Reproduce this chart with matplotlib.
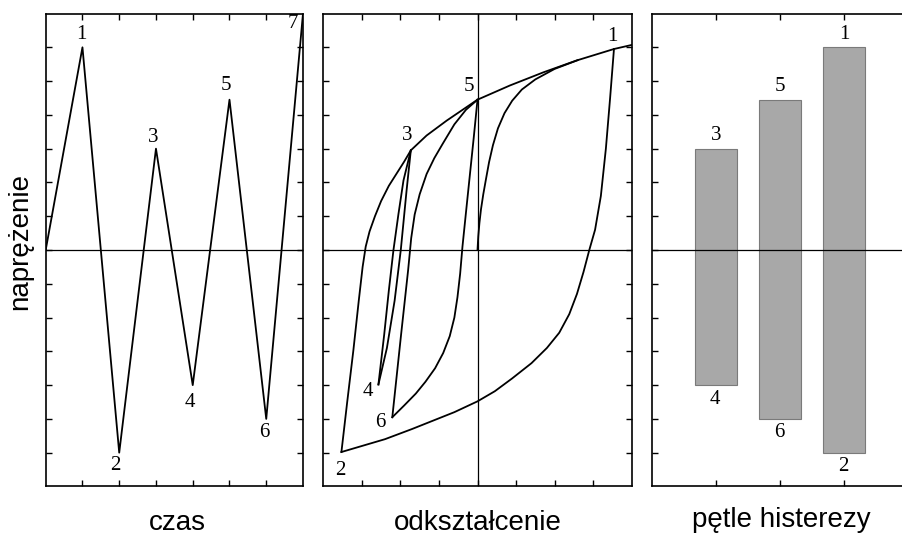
import matplotlib

matplotlib.use("Agg")

import matplotlib.pyplot as plt

# --- time history (left panel) ---
time_steps = [0, 1, 2, 3, 4, 5, 6, 7]
stress_history = [0, 6, -6, 3, -4, 4.45, -5, 7]
history_labels = ["", "1", "2", "3", "4", "5", "6", "7"]

# --- stress-strain branches (middle panel) ---
# reloading from 2 through 3 and 5 to 1 and beyond
reload_2_1_strain = [-3.53, -3.38, -3.22, -3.08, -2.98, -2.90, -2.80, -2.66, -2.50, -2.30, -2.05, -1.90,
                     -1.73, -1.32, -0.80, 0.0, 0.84, 1.71, 2.57, 3.54, 4.0]
reload_2_1_stress = [-5.98, -4.5, -2.97, -1.5, -0.5, 0.1, 0.55, 1.0, 1.45, 1.9, 2.35, 2.62,
                     2.95, 3.39, 3.83, 4.45, 4.87, 5.26, 5.61, 5.95, 6.07]
# first loading from the origin
virgin_strain = [0.0, 0.02, 0.05, 0.09, 0.15, 0.22, 0.30, 0.40, 0.53, 0.70, 0.90, 1.15, 1.50, 2.0, 2.6]
virgin_stress = [0.0, 0.4, 0.8, 1.2, 1.65, 2.1, 2.6, 3.1, 3.6, 4.05, 4.42, 4.75, 5.05, 5.36, 5.62]
# unloading 1 -> 2
unload_1_2_strain = [3.54, 3.44, 3.33, 3.20, 3.05, 2.90, 2.75, 2.58, 2.38, 2.12, 1.80, 1.40, 0.90, 0.45,
                     0.0, -0.60, -1.15, -1.70, -2.40, -3.53]
unload_1_2_stress = [5.95, 4.5, 3.0, 1.6, 0.6, 0.0, -0.65, -1.3, -1.9, -2.45, -2.9, -3.35, -3.8, -4.18,
                     -4.48, -4.8, -5.05, -5.3, -5.6, -5.98]
# small loop 3 -> 4 -> 3
unload_3_4_strain = [-1.73, -1.84, -1.99, -2.15, -2.35, -2.57]
unload_3_4_stress = [2.95, 1.76, 0.0, -1.5, -2.9, -3.98]
reload_4_3_strain = [-2.57, -2.42, -2.30, -2.18, -2.05, -1.92, -1.73]
reload_4_3_stress = [-3.98, -2.5, -1.2, 0.0, 1.07, 2.06, 2.95]
# loop 5 -> 6 -> 5
unload_5_6_strain = [0.0, -0.10, -0.20, -0.30, -0.39, -0.45, -0.52, -0.60, -0.72, -0.89, -1.10, -1.35,
                     -1.60, -1.90, -2.21]
unload_5_6_stress = [4.45, 3.3, 2.2, 1.1, 0.1, -0.7, -1.4, -2.0, -2.55, -3.05, -3.5, -3.9,
                     -4.25, -4.6, -4.95]
reload_6_5_strain = [-2.21, -1.98, -1.80, -1.72, -1.63, -1.50, -1.32, -1.12, -0.90, -0.60, -0.30, 0.0]
reload_6_5_stress = [-4.95, -2.48, -0.6, 0.35, 1.05, 1.65, 2.25, 2.72, 3.15, 3.72, 4.15, 4.45]

turning_labels = ["1", "2", "3", "4", "5", "6"]
turning_strain = [3.54, -3.53, -1.73, -2.57, 0.0, -2.21]
turning_stress = [5.95, -5.98, 2.95, -3.98, 4.45, -4.95]

# --- hysteresis loops (right panel) ---
loop_positions = [1, 2, 3]
loop_max = [3, 4.45, 6]
loop_min = [-4, -5, -6]
loop_max_labels = ["3", "5", "1"]
loop_min_labels = ["4", "6", "2"]

NUM_FONT = "Liberation Serif"
LBL_FONT = "Liberation Sans"
LINE_W = 1.3


def style_axes(ax, xticks):
    ax.set_xticks(xticks)
    ax.set_yticks(range(-6, 7))
    ax.tick_params(direction="in", length=4, width=1, top=True, right=True,
                   labelleft=False, labelbottom=False)
    for sp in ax.spines.values():
        sp.set_linewidth(1.2)
    ax.set_ylim(-7, 7)


def put(ax, text, x, y, dx, dy):
    ax.annotate(text, (x, y), xytext=(dx, dy), textcoords="offset pixels",
                ha="center", va="center", fontsize=15, family=NUM_FONT,
                annotation_clip=False)


fig = plt.figure(figsize=(9.02, 5.35), dpi=100)
bottom, height = 0.0907, 0.884

# left: stress history
ax1 = fig.add_axes([45.7 / 902, bottom, 257.3 / 902, height])
ax1.plot(time_steps, stress_history, color="black", lw=LINE_W)
ax1.axhline(0, color="black", lw=0.9)
ax1.set_xlim(0, 7)
style_axes(ax1, range(1, 7))
offs1 = {"1": (-1.5, 13), "2": (-4, -13), "3": (-2.5, 11), "4": (-3, -17),
         "5": (-3.5, 14), "6": (-1.5, -14), "7": (-10, -10)}
for t, s, lab in zip(time_steps, stress_history, history_labels):
    if lab:
        put(ax1, lab, t, s, *offs1[lab])

# middle: stress-strain
ax2 = fig.add_axes([323.3 / 902, bottom, 308.4 / 902, height])
branches = [
    (reload_2_1_strain, reload_2_1_stress),
    (virgin_strain, virgin_stress),
    (unload_1_2_strain, unload_1_2_stress),
    (unload_3_4_strain, unload_3_4_stress),
    (reload_4_3_strain, reload_4_3_stress),
    (unload_5_6_strain, unload_5_6_stress),
    (reload_6_5_strain, reload_6_5_stress),
]
for xs, ys in branches:
    ax2.plot(xs, ys, color="black", lw=LINE_W, solid_joinstyle="round")
ax2.axhline(0, color="black", lw=0.9)
ax2.axvline(0, color="black", lw=0.9)
ax2.set_xlim(-4, 4)
style_axes(ax2, range(-3, 4))
offs2 = {"1": (-2, 13), "2": (-1.5, -18), "3": (-4, 15), "4": (-11, -7),
         "5": (-9, 13), "6": (-12, -5)}
for lab, x, y in zip(turning_labels, turning_strain, turning_stress):
    put(ax2, lab, x, y, *offs2[lab])

# right: hysteresis loop ranges
ax3 = fig.add_axes([652.3 / 902, bottom, 256 / 902, height])
heights = [hi - lo for hi, lo in zip(loop_max, loop_min)]
ax3.bar(loop_positions, heights, bottom=loop_min, width=0.66,
        color="#a8a8a8", edgecolor="#7a7a7a", linewidth=0.8, zorder=2)
ax3.axhline(0, color="black", lw=0.9, zorder=3)
ax3.set_xlim(0, 4)
style_axes(ax3, loop_positions)
for x, hi, lo, lh, ll in zip(loop_positions, loop_max, loop_min, loop_max_labels, loop_min_labels):
    put(ax3, lh, x, hi, 0, 13)
    put(ax3, ll, x, lo, -1, -14)

# axis titles
fig.text(177 / 902, 1 - 530 / 535, "czas", ha="center", va="baseline",
         fontsize=20, family=LBL_FONT)
fig.text(478 / 902, 1 - 530 / 535, "odkształcenie", ha="center", va="baseline",
         fontsize=20, family=LBL_FONT)
fig.text(781 / 902, 1 - 527 / 535, "pętle histerezy", ha="center", va="baseline",
         fontsize=20, family=LBL_FONT)
fig.text(20 / 902, 1 - 241 / 535, "naprężenie", ha="center", va="center",
         rotation=90, fontsize=20, family=LBL_FONT)

fig.savefig("out.png", dpi=100)
